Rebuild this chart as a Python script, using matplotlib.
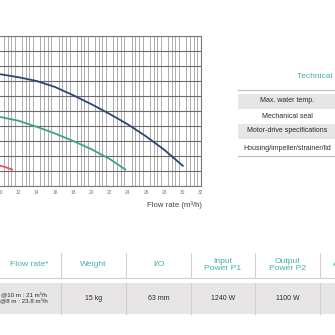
import matplotlib.pyplot as plt
import numpy as np
from matplotlib.lines import Line2D
from matplotlib.patches import Rectangle

W = H = 335

# pump curves: head (m) against flow rate (m3/h)
blue_q = [9, 10, 12, 14, 16, 18, 20, 22, 24, 26, 28, 30]
blue_h = [15.2, 14.9, 14.5, 14.0, 13.2, 12.1, 10.9, 9.6, 8.2, 6.6, 4.8, 2.7]
green_q = [9, 10, 12, 14, 16, 18, 20, 22, 23.7]
green_h = [9.6, 9.2, 8.7, 7.9, 7.0, 6.0, 4.9, 3.6, 2.2]
red_q = [9, 10, 10.6, 11.3]
red_h = [3.0, 2.7, 2.5, 2.2]

xticks = list(range(10, 33, 2))

spec_rows = ['Max. water temp.', 'Mechanical seal',
             'Motor-drive specifications', 'Housing/impeller/strainer/lid']

headers = ['Flow rate*', 'Weight', 'I/O', 'Input\nPower P1',
           'Output\nPower P2', 'Amperage']
values = ['@10 m : 21 m\u00b3/h\n@8 m : 23.8 m\u00b3/h', '15 kg', '63 mm',
          '1240 W', '1100 W', '']

teal = '#45adad'
band = '#e7e5e5'
plt.rcParams['font.family'] = ['Liberation Sans', 'DejaVu Sans']


def fx(px):
    return px / W


def fy(py):
    return 1 - py / H


fig = plt.figure(figsize=(3.35, 3.35), dpi=100)

# curve panel, its left part runs off the page
left, right, top, bottom = -91, 201, 36, 186
ax = fig.add_axes([fx(left), fy(bottom), fx(right - left), (bottom - top) / H])
ax.set_xlim(0, 32)
ax.set_ylim(0, 20)
ax.set_xticks(xticks)
ax.set_xticklabels([str(t) for t in xticks])
ax.set_xticks(np.arange(0, 32.01, 0.4), minor=True)
ax.set_yticks(np.arange(0, 20.01, 2))
ax.set_yticklabels([])
ax.tick_params(which='both', length=0)
ax.tick_params(axis='x', labelsize=3.5, labelcolor='#777', pad=3)
ax.grid(axis='x', which='minor', color='#a0a0a0', lw=0.6)
ax.grid(axis='y', which='major', color='#6a6a6a', lw=0.8)
for s in ax.spines.values():
    s.set_color('#777')
    s.set_linewidth(0.8)

ax.plot(blue_q, blue_h, color='#2c4670', lw=1.3)
ax.plot(green_q, green_h, color='#3aa77c', lw=1.3)
ax.plot(red_q, red_h, color='#e0574f', lw=1.3)

fig.text(fx(202), fy(205), 'Flow rate (m\u00b3/h)', ha='right', va='center',
         fontsize=5.6, color='#444')

# technical table on the right
fig.text(fx(297), fy(77), 'Technical specifications', ha='left', va='center',
         fontsize=6, color=teal)
fig.add_artist(Line2D([fx(238), fx(335)], [fy(89.5), fy(89.5)],
                      transform=fig.transFigure, color='#bbb', lw=0.8))
row_y = [101, 116, 131, 148]
for i, (label, y) in enumerate(zip(spec_rows, row_y)):
    if i % 2 == 0:
        fig.add_artist(Rectangle((fx(238), fy(y + 7.5)), fx(97), 15 / H,
                                 transform=fig.transFigure, color=band, lw=0))
    fig.text(fx(287.5), fy(y), label, ha='center', va='center', fontsize=5.0,
             color='#2a2a2a')
fig.add_artist(Line2D([fx(238), fx(335)], [fy(156), fy(156)],
                      transform=fig.transFigure, color='#bbb', lw=0.8))

# bottom table
col_x = [-4, 61, 126, 191, 255, 320, 385]
fig.add_artist(Rectangle((0, fy(314)), 1, 31 / H, transform=fig.transFigure,
                         color=band, lw=0))
fig.add_artist(Line2D([0, 1], [fy(277.5), fy(277.5)],
                      transform=fig.transFigure, color='#d0d0d0', lw=0.8))
for x in col_x[1:-1]:
    fig.add_artist(Line2D([fx(x), fx(x)], [fy(253), fy(277)],
                          transform=fig.transFigure, color='#d3d3d3', lw=0.8))
    fig.add_artist(Line2D([fx(x), fx(x)], [fy(283), fy(314)],
                          transform=fig.transFigure, color='#cfcfcf', lw=0.8))
for i, (hdr, val) in enumerate(zip(headers, values)):
    cx = (col_x[i] + col_x[i + 1]) / 2
    if i == 0:
        cx = 29
    fig.text(fx(cx), fy(265), hdr, ha='center', va='center', fontsize=6.1,
             color=teal, linespacing=0.95)
    vx = 24 if i == 0 else cx
    fig.text(fx(vx), fy(298.5), val, ha='center', va='center',
             fontsize=4.4 if i == 0 else 5.0, color='#2a2a2a', linespacing=1.0)

fig.savefig('out.png', dpi=100)
